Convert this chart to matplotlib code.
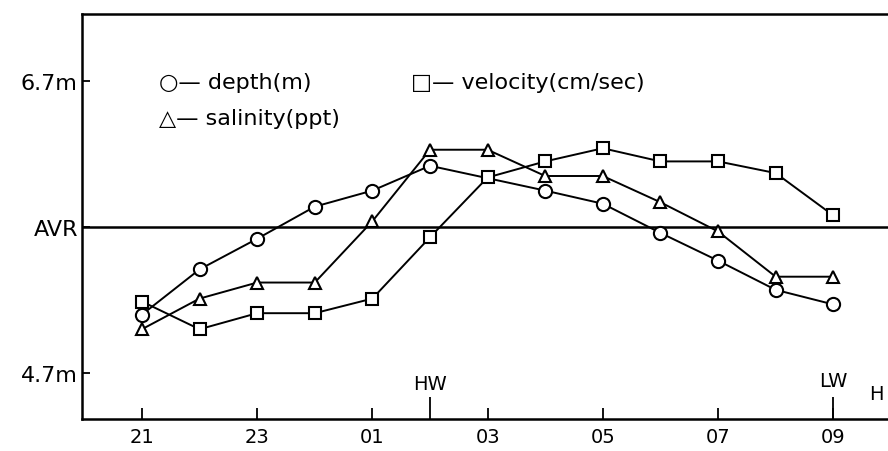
import numpy as np
import matplotlib.pyplot as plt

plt.rcParams["font.family"] = ["DejaVu Sans"]

# hours of the observation (21h to 09h next morning)
hours = ["21", "22", "23", "24", "01", "02", "03", "04", "05", "06", "07", "08", "09"]
tick_hours = ["21", "23", "01", "03", "05", "07", "09"]

# depth has no reading at 03
depth_hours = ["21", "22", "23", "24", "01", "02", "04", "05", "06", "07", "08", "09"]
depth = [5.10, 5.41, 5.62, 5.84, 5.95, 6.12, 5.95, 5.86, 5.66, 5.47, 5.27, 5.17]
salinity = [5.00, 5.21, 5.32, 5.32, 5.74, 6.23, 6.23, 6.05, 6.05, 5.87, 5.67, 5.36, 5.36]
velocity = [5.19, 5.00, 5.11, 5.11, 5.21, 5.63, 6.04, 6.15, 6.24, 6.15, 6.15, 6.07, 5.78]

avr = 5.7
ytick_vals = [6.7, avr, 4.7]
ytick_labels = ["6.7m", "AVR", "4.7m"]

legend_syms = ["\u25cb", "\u25a1", "\u25b3"]
legend_labels = ["depth(m)", "velocity(cm/sec)", "salinity(ppt)"]

idx = {h: i for i, h in enumerate(hours)}
x_all = np.arange(len(hours))
x_depth = [idx[h] for h in depth_hours]

fig = plt.figure(figsize=(8.88, 4.52), dpi=100)
ax = fig.add_axes([82 / 888, 32 / 452, 1 - 82 / 888, 405 / 452])

st = dict(color="black", lw=1.4, markerfacecolor="white", markeredgecolor="black",
          markeredgewidth=1.5, zorder=3)
ax.plot(x_depth, depth, marker="o", markersize=9.5, **st)
ax.plot(x_all, salinity, marker="^", markersize=9, **st)
ax.plot(x_all, velocity, marker="s", markersize=8.5, **st)

ax.axhline(avr, color="black", lw=1.8, zorder=2)

ax.set_xlim(-1.04, 12.95)
ax.set_ylim(4.385, 7.16)

ax.set_xticks([idx[h] for h in tick_hours])
ax.set_xticklabels(tick_hours, fontsize=14)
ax.tick_params(axis="x", direction="in", length=8, width=1.3, pad=6)

# high / low water marks: longer ticks with labels
xt = ax.get_xaxis_transform()
ax.vlines([idx["02"], idx["09"]], 0, 0.055, transform=xt, color="black", lw=1.3)
ax.text(idx["02"], 0.088, "HW", transform=xt, ha="center", va="center", fontsize=14)
ax.text(idx["09"], 0.095, "LW", transform=xt, ha="center", va="center", fontsize=14)
ax.text(12.75, 0.062, "H", transform=xt, ha="center", va="center", fontsize=14)

ax.set_yticks(ytick_vals)
ax.set_yticklabels(ytick_labels, fontsize=16)
ax.tick_params(axis="y", direction="in", length=6, width=1.3, pad=3)

for s in ["left", "bottom", "top"]:
    ax.spines[s].set_linewidth(1.8)
ax.spines["right"].set_visible(False)

# legend written as text, like the original figure
leg_pos = [(0.095, 0.832), (0.408, 0.832), (0.095, 0.742)]
for (px, py), sym, lab in zip(leg_pos, legend_syms, legend_labels):
    ax.text(px, py, sym + "\u2014 " + lab, transform=ax.transAxes,
            ha="left", va="center", fontsize=16)

fig.savefig("out.png", dpi=100)
